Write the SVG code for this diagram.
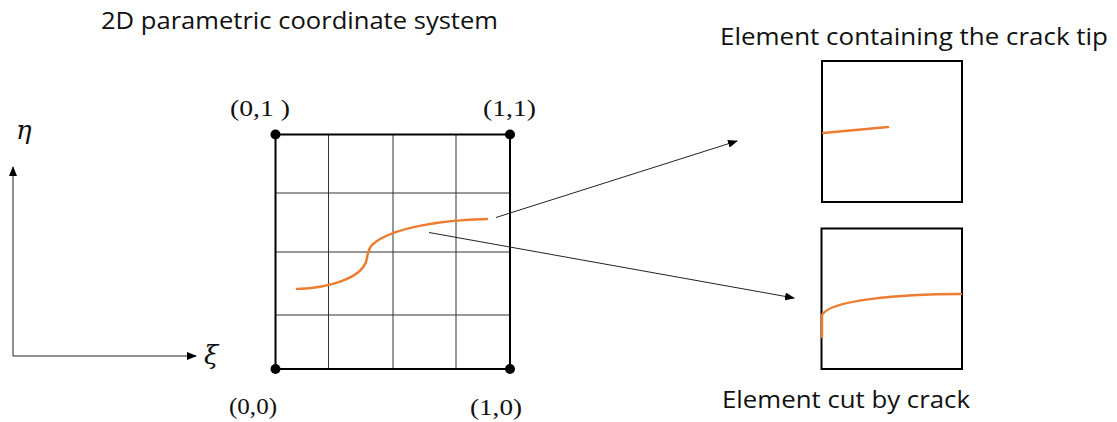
<svg xmlns="http://www.w3.org/2000/svg" width="1117" height="422" viewBox="0 0 1117 422">
<style>
.title{font-family:"Open Sans","Liberation Sans",sans-serif;font-size:23px;fill:#111}
.coord{font-family:"Liberation Serif","DejaVu Serif",serif;font-size:24px;fill:#111}
.greek{font-family:"DejaVu Serif","Liberation Serif",serif;font-style:italic;font-size:26px;fill:#111}
.grid{stroke:#333;stroke-width:1;fill:none}
.border{stroke:#000;stroke-width:2;fill:none}
.crack{stroke:#ED7D31;stroke-width:2.5;fill:none;stroke-linecap:round}
.conn{stroke:#222;stroke-width:1;fill:none}
</style>
<defs>
<marker id="ah" markerWidth="10" markerHeight="8" refX="9" refY="4" orient="auto" markerUnits="userSpaceOnUse">
<path d="M0,0 L10,4 L0,8 Z" fill="#000"/>
</marker>
</defs>
<rect width="1117" height="422" fill="#fff"/>
<g id="title">
<text class="title" x="101" y="29" textLength="397" lengthAdjust="spacingAndGlyphs">2D parametric coordinate system</text>
</g>
<g id="axes">
<line class="conn" x1="13" y1="356" x2="13" y2="167" marker-end="url(#ah)"/>
<line class="conn" x1="13" y1="356" x2="196" y2="356" marker-end="url(#ah)"/>
<text class="greek" x="16" y="139">η</text>
<text class="greek" x="204" y="364">ξ</text>
</g>
<g id="grid-domain">
<line class="grid" x1="328.5" y1="134" x2="328.5" y2="369"/>
<line class="grid" x1="393" y1="134" x2="393" y2="369"/>
<line class="grid" x1="456" y1="134" x2="456" y2="369"/>
<line class="grid" x1="275.5" y1="193" x2="510" y2="193"/>
<line class="grid" x1="275.5" y1="252" x2="510" y2="252"/>
<line class="grid" x1="275.5" y1="315" x2="510" y2="315"/>
<rect class="border" x="275.5" y="134.5" width="234.5" height="234.5"/>
<circle cx="275.5" cy="134.5" r="5" fill="#000"/>
<circle cx="510" cy="134.5" r="5" fill="#000"/>
<circle cx="275.5" cy="369" r="5" fill="#000"/>
<circle cx="510" cy="369" r="5" fill="#000"/>
<path class="crack" d="M297,289 C330,288 360,278 366,262 C368,256 367,249 373,244 C392,228 440,220 487,219"/>
<text class="coord" x="230" y="116" textLength="60" lengthAdjust="spacingAndGlyphs">(0,1 )</text>
<text class="coord" x="483" y="116" textLength="53" lengthAdjust="spacingAndGlyphs">(1,1)</text>
<text class="coord" x="229" y="414" font-size="20" textLength="48" lengthAdjust="spacingAndGlyphs">(0,0)</text>
<text class="coord" x="470" y="415" textLength="52" lengthAdjust="spacingAndGlyphs">(1,0)</text>
</g>
<g id="element-tip">
<text class="title" x="720" y="45" textLength="388" lengthAdjust="spacingAndGlyphs">Element containing the crack tip</text>
<rect class="border" x="822" y="61" width="140" height="141"/>
<path class="crack" stroke-width="2" d="M823,133 L888,127"/>
</g>
<g id="element-cut">
<rect class="border" x="821.5" y="228.5" width="140.5" height="140.5"/>
<path class="crack" stroke-width="2" d="M822,337 L822,315 C830,300 900,294 961,294"/>
<text class="title" x="722" y="408" textLength="248" lengthAdjust="spacingAndGlyphs">Element cut by crack</text>
</g>
<g id="connectors">
<line class="conn" x1="496" y1="217.5" x2="737" y2="141" marker-end="url(#ah)"/>
<line class="conn" x1="429" y1="232.5" x2="794" y2="298" marker-end="url(#ah)"/>
</g>
</svg>
